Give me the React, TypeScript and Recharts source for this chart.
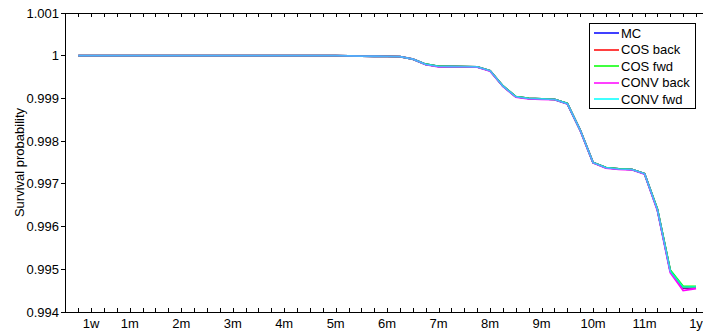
import { LineChart, Line, XAxis, YAxis } from 'recharts';

// time axis: quarter-month steps, 0 .. 48 (= 1 year)
const weeks = [
  0, 1, 2, 3, 4, 5, 6, 7, 8, 9, 10, 11, 12, 13, 14, 15, 16, 17, 18, 19, 20, 21, 22, 23, 24,
  25, 26, 27, 28, 29, 30, 31, 32, 33, 34, 35, 36, 37, 38, 39, 40, 41, 42, 43, 44, 45, 46, 47, 48,
];

const mc = [
  1, 1, 1, 1, 1, 1, 1, 1, 1, 1, 1, 1, 1, 1, 1, 1, 1, 1, 1, 1, 1,
  0.999995, 0.99999, 0.999988, 0.999985, 0.99998, 0.99992, 0.9998, 0.99975, 0.999748, 0.999746,
  0.99974, 0.99965, 0.99929, 0.99904, 0.999, 0.99899, 0.99898, 0.99888, 0.99826, 0.9975,
  0.99738, 0.99735, 0.99734, 0.99724, 0.9964, 0.99496, 0.99456, 0.99457,
];
const cosBack = [
  1, 1, 1, 1, 1, 1, 1, 1, 1, 1, 1, 1, 1, 1, 1, 1, 1, 1, 1, 1, 1,
  0.999995, 0.99999, 0.999988, 0.999985, 0.99998, 0.99992, 0.9998, 0.99975, 0.999748, 0.999746,
  0.99974, 0.99965, 0.99929, 0.99904, 0.999, 0.99899, 0.99898, 0.99888, 0.99826, 0.9975,
  0.99738, 0.99735, 0.99734, 0.99724, 0.9964, 0.99496, 0.99457, 0.99458,
];
const cosFwd = [
  1, 1, 1, 1, 1, 1, 1, 1, 1, 1, 1, 1, 1, 1, 1, 1, 1, 1, 1, 1, 1,
  0.999995, 0.99999, 0.999988, 0.999985, 0.99998, 0.99992, 0.9998, 0.99975, 0.999748, 0.999746,
  0.99974, 0.99965, 0.99929, 0.99904, 0.999, 0.99899, 0.99898, 0.99888, 0.99826, 0.9975,
  0.99738, 0.99735, 0.99734, 0.99724, 0.99641, 0.99498, 0.9946, 0.9946,
];
const convBack = [
  1, 1, 1, 1, 1, 1, 1, 1, 1, 1, 1, 1, 1, 1, 1, 1, 1, 1, 1, 1, 1,
  0.999995, 0.99999, 0.999988, 0.999985, 0.99998, 0.99992, 0.99979, 0.99974, 0.999742, 0.99974,
  0.999735, 0.99964, 0.99928, 0.99903, 0.99899, 0.99898, 0.99897, 0.99887, 0.99825, 0.99749,
  0.99737, 0.99734, 0.99733, 0.99723, 0.99638, 0.99492, 0.9945, 0.99455,
];
const convFwd = [
  1, 1, 1, 1, 1, 1, 1, 1, 1, 1, 1, 1, 1, 1, 1, 1, 1, 1, 1, 1, 1,
  0.999995, 0.99999, 0.999988, 0.999985, 0.99998, 0.99992, 0.9998, 0.99975, 0.999748, 0.999746,
  0.99974, 0.99965, 0.99929, 0.99904, 0.999, 0.99899, 0.99898, 0.99888, 0.99826, 0.9975,
  0.99738, 0.99735, 0.99734, 0.99724, 0.9964, 0.99496, 0.99458, 0.99459,
];

const labelWeeks = [1, 4, 8, 12, 16, 20, 24, 28, 32, 36, 40, 44, 48];
const tickLabels = ['1w', '1m', '2m', '3m', '4m', '5m', '6m', '7m', '8m', '9m', '10m', '11m', '1y'];
const yTicks = [0.994, 0.995, 0.996, 0.997, 0.998, 0.999, 1, 1.001];

const series = [
  { key: 'mc', name: 'MC', color: '#0000ff', opacity: 1, axis: 'bottom' },
  { key: 'cosBack', name: 'COS back', color: '#ff0000', opacity: 1, axis: 'bottom' },
  { key: 'cosFwd', name: 'COS fwd', color: '#00ff00', opacity: 1, axis: 'bottom' },
  { key: 'convBack', name: 'CONV back', color: '#ff00ff', opacity: 1, axis: 'bottom' },
  { key: 'convFwd', name: 'CONV fwd', color: '#00ffff', opacity: 0.7, axis: 'top' },
];

const data = weeks.map((w, i) => ({
  w,
  mc: mc[i],
  cosBack: cosBack[i],
  cosFwd: cosFwd[i],
  convBack: convBack[i],
  convFwd: convFwd[i],
}));

const domainX: [number, number] = [-1.03, 48.62];
const crisp = { stroke: '#000', strokeWidth: 1, shapeRendering: 'crispEdges' };

// inward tick marks, labels only at 1w and the month points
function BottomTick({ x, y, payload }: any) {
  const idx = labelWeeks.indexOf(payload.value);
  return (
    <g>
      <rect x={Math.round(x)} y={Math.round(y) - 4} width={1} height={4} fill="#000" />
      {idx >= 0 && (
        <text x={x} y={y + 16} textAnchor="middle" fontSize={13} fill="#000">
          {tickLabels[idx]}
        </text>
      )}
    </g>
  );
}

function TopTick({ x, y }: any) {
  return <rect x={Math.round(x)} y={Math.round(y)} width={1} height={4} fill="#000" />;
}

function YLabel({ viewBox }: any) {
  const cx = viewBox.x + 19;
  const cy = viewBox.y + viewBox.height / 2;
  return (
    <text x={cx} y={cy} transform={`rotate(-90 ${cx} ${cy})`} textAnchor="middle" dominantBaseline="central" fontSize={13} fill="#000">
      Survival probability
    </text>
  );
}

export default function App() {
  return (
    <div
      style={{
        position: 'absolute',
        left: 0,
        top: 0,
        width: 703,
        height: 335,
        overflow: 'hidden',
        background: '#fff',
        fontFamily: '"Liberation Sans", Arial, sans-serif',
      }}
    >
      <LineChart width={720} height={335} data={data} margin={{ top: 12, right: 16, bottom: 0, left: 0 }}>
        <XAxis
          xAxisId="bottom"
          dataKey="w"
          type="number"
          domain={domainX}
          allowDataOverflow
          ticks={weeks}
          interval={0}
          tick={<BottomTick />}
          tickLine={false}
          tickSize={0}
          tickMargin={0}
          height={23}
          axisLine={crisp}
        />
        <XAxis
          xAxisId="top"
          dataKey="w"
          orientation="top"
          type="number"
          domain={domainX}
          allowDataOverflow
          ticks={weeks}
          interval={0}
          tick={<TopTick />}
          tickLine={false}
          tickSize={0}
          tickMargin={0}
          height={1}
          axisLine={crisp}
        />
        <YAxis
          type="number"
          domain={[0.994, 1.001]}
          ticks={yTicks}
          interval={0}
          width={65}
          tickSize={4}
          tickMargin={2}
          tick={{ fill: '#000', fontSize: 13 }}
          tickLine={crisp}
          axisLine={crisp}
          tickFormatter={(v: number) => String(Number(v.toFixed(3)))}
          label={{ content: <YLabel /> }}
        />
        {series.map((s) => (
          <Line
            key={s.key}
            xAxisId={s.axis}
            type="linear"
            dataKey={s.key}
            name={s.name}
            stroke={s.color}
            strokeOpacity={s.opacity}
            strokeWidth={1.8}
            dot={false}
            isAnimationActive={false}
          />
        ))}
      </LineChart>
      <div
        style={{
          position: 'absolute',
          left: 589,
          top: 23,
          width: 107,
          height: 86,
          boxSizing: 'border-box',
          border: '1px solid #000',
          background: '#fff',
          paddingTop: 1,
        }}
      >
        {series.map((s) => (
          <div key={s.key} style={{ display: 'flex', alignItems: 'center', height: 16.5 }}>
            <svg width={25} height={4} style={{ marginLeft: 4 }}>
              <line x1={0} x2={25} y1={2} y2={2} stroke={s.color} strokeWidth={1.5} />
            </svg>
            <span style={{ marginLeft: 2, fontSize: 13, color: '#000', whiteSpace: 'nowrap' }}>{s.name}</span>
          </div>
        ))}
      </div>
    </div>
  );
}
